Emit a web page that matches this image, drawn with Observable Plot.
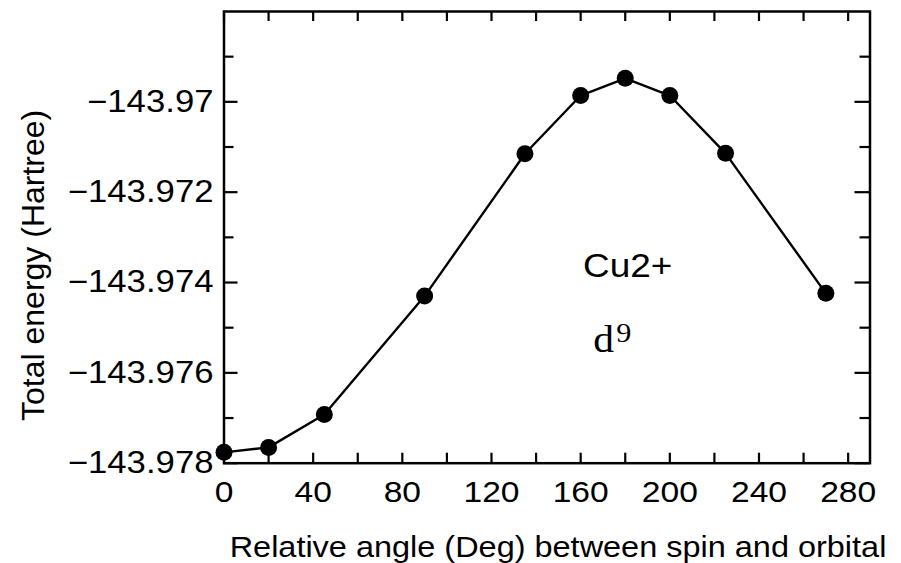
<!DOCTYPE html>
<html>
<head>
<meta charset="utf-8">
<script src="https://cdn.jsdelivr.net/npm/d3@7"></script>
<script src="https://cdn.jsdelivr.net/npm/@observablehq/plot@0.6"></script>
<style>
  html, body { margin: 0; padding: 0; background: #fff; }
  #chart svg { display: block; }
</style>
</head>
<body>
<div id="chart"></div>
<script>
// ---- data ----
const angles   = [0, 20, 45, 90, 135, 160, 180, 200, 225, 270];
const energies = [-143.97776, -143.97765, -143.97692, -143.97430, -143.97115,
                  -143.96986, -143.96948, -143.96986, -143.97114, -143.97424];

const xTicks      = [0, 20, 40, 60, 80, 100, 120, 140, 160, 180, 200, 220, 240, 260, 280];
const xLabelTicks = [0, 40, 80, 120, 160, 200, 240, 280];
const yTicks      = [-143.978, -143.977, -143.976, -143.975, -143.974, -143.973,
                     -143.972, -143.971, -143.970, -143.969];
const yLabelTicks = [-143.978, -143.976, -143.974, -143.972, -143.970];
const yTickLabels = ["\u2212143.978", "\u2212143.976", "\u2212143.974", "\u2212143.972", "\u2212143.97"];

const xTitle = "Relative angle (Deg) between spin and orbital";
const yTitle = "Total energy (Hartree)";
const notes  = [{label: "Cu2+", angle: 161.1, energy: -143.97388}];
const dNote  = [{label: "d", sup: "9", angle: 165.6, energy: -143.97554}];

// ---- layout ----
const W = 901, H = 563;
const mL = 223.5, mR = 31.5, mT = 11, mB = 100.3;
const innerW = W - mL - mR, innerH = H - mT - mB;

const pts = angles.map((a, i) => ({angle: a, energy: energies[i]}));
const isMajor = v => yLabelTicks.some(t => Math.abs(t - v) < 1e-9);
const yMajor = yTicks.filter(isMajor);
const yMinor = yTicks.filter(v => !isMajor(v));

const tickStyle = {stroke: "black", strokeWidth: 2.2};

const plot = Plot.plot({
  width: W, height: H,
  marginLeft: mL, marginRight: mR, marginTop: mT, marginBottom: mB,
  style: {fontFamily: "'Liberation Sans', Arial, Helvetica, sans-serif", background: "white", color: "black"},
  x: {domain: [0, 289.8]},
  y: {domain: [-143.978, -143.968]},
  marks: [
    Plot.axisX({ticks: xLabelTicks, anchor: "bottom", tickSize: 0, tickPadding: 17, fontSize: 30,
                tickFormat: d => String(d), label: null}),
    Plot.axisY({ticks: yLabelTicks, anchor: "left", tickSize: 0, tickPadding: 10.5, fontSize: 31,
                tickFormat: d => yTickLabels[yLabelTicks.findIndex(t => Math.abs(t - d) < 1e-9)], label: null}),
    // inward ticks
    Plot.tickX(xTicks, {x: d => d, insetTop: innerH - 10, ...tickStyle}),
    Plot.tickX(xTicks, {x: d => d, insetBottom: innerH - 10, ...tickStyle}),
    Plot.tickY(yMajor, {y: d => d, insetRight: innerW - 14, ...tickStyle}),
    Plot.tickY(yMinor, {y: d => d, insetRight: innerW - 10, ...tickStyle}),
    Plot.tickY(yMajor, {y: d => d, insetLeft: innerW - 15, ...tickStyle}),
    Plot.tickY(yMinor, {y: d => d, insetLeft: innerW - 10, ...tickStyle}),
    Plot.frame({stroke: "black", strokeWidth: 2.5}),
    // data
    Plot.line(pts, {x: "angle", y: "energy", stroke: "black", strokeWidth: 2.4}),
    Plot.dot(pts, {x: "angle", y: "energy", r: 8.5, fill: "black", stroke: null}),
    // annotations
    Plot.text(notes, {x: "angle", y: "energy", text: "label", fontSize: 33, textAnchor: "start", lineAnchor: "bottom", fill: "black"}),
    Plot.text(dNote, {x: "angle", y: "energy", text: "label", fontSize: 37, fontFamily: "'Liberation Serif', 'Times New Roman', serif",
                      textAnchor: "start", lineAnchor: "bottom", fill: "black"}),
    Plot.text(dNote, {x: "angle", y: "energy", text: "sup", fontSize: 27, fontFamily: "'Liberation Serif', 'Times New Roman', serif",
                      textAnchor: "start", lineAnchor: "bottom", dx: 23, dy: -10, fill: "black"}),
    // titles
    Plot.text([xTitle], {frameAnchor: "bottom", dx: 11, dy: 94, fontSize: 29, textAnchor: "middle", lineAnchor: "bottom", fill: "black"}),
    Plot.text([yTitle], {frameAnchor: "left", rotate: -90, dx: -190.5, dy: 28, fontSize: 32, textAnchor: "middle", lineAnchor: "middle", fill: "black"})
  ]
});

// mimic the slightly wide lettering of the original (horizontal text only)
d3.select(plot).selectAll("text").each(function() {
  const t = this.getAttribute("transform");
  if (t && !/rotate/.test(t)) this.setAttribute("transform", t + " scale(1.12,1)");
});

document.getElementById("chart").appendChild(plot);
</script>
</body>
</html>
